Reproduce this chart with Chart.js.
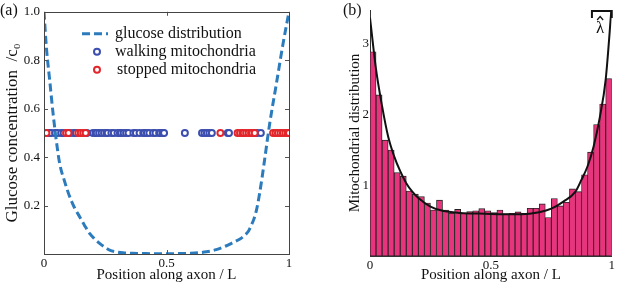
<!DOCTYPE html>
<html>
<head>
<meta charset="utf-8">
<script src="https://cdn.jsdelivr.net/npm/chart.js@4.4.1/dist/chart.umd.min.js"></script>
<style>
  html, body { margin: 0; padding: 0; background: #fff; }
  #wrap { position: relative; width: 617px; height: 284px; }
  #pa { position: absolute; left: 0; top: 0; width: 310px; height: 284px; }
  #pb { position: absolute; left: 310px; top: 0; width: 307px; height: 284px; }
</style>
</head>
<body>
<div id="wrap">
  <div id="pa"><canvas id="ca"></canvas></div>
  <div id="pb"><canvas id="cb"></canvas></div>
</div>
<script>
// ---------- Panel (a) data ----------
const GLUCOSE_X = [0, 0.01, 0.023, 0.036, 0.05, 0.064, 0.084, 0.105, 0.125, 0.146, 0.166, 0.186, 0.207, 0.227, 0.25, 0.268, 0.295, 0.322, 0.36, 0.4, 0.45, 0.5, 0.55, 0.6, 0.663, 0.703, 0.74, 0.771, 0.8, 0.819, 0.835, 0.846, 0.857, 0.867, 0.88, 0.89, 0.9, 0.921, 0.948, 0.976, 1.0];
const GLUCOSE_Y = [1.0, 0.85, 0.72, 0.59, 0.47, 0.373, 0.30, 0.236, 0.19, 0.153, 0.117, 0.085, 0.062, 0.044, 0.027, 0.016, 0.009, 0.005, 0.003, 0.002, 0.001, 0.001, 0.002, 0.003, 0.009, 0.018, 0.032, 0.047, 0.062, 0.077, 0.095, 0.118, 0.145, 0.18, 0.25, 0.315, 0.386, 0.537, 0.70, 0.87, 1.0];
const WALKING_X = [0.02, 0.03, 0.045, 0.055, 0.07, 0.08, 0.105, 0.12, 0.13, 0.175, 0.2, 0.21, 0.215, 0.225, 0.235, 0.245, 0.255, 0.26, 0.275, 0.285, 0.3, 0.31, 0.315, 0.325, 0.335, 0.345, 0.365, 0.375, 0.39, 0.405, 0.41, 0.42, 0.43, 0.445, 0.455, 0.47, 0.475, 0.485, 0.49, 0.575, 0.645, 0.655, 0.665, 0.675, 0.685, 0.75, 0.755, 0.86, 0.87, 0.885];
const STOPPED_X = [0.0, 0.01, 0.09, 0.1, 0.14, 0.15, 0.16, 0.17, 0.72, 0.79, 0.8, 0.81, 0.815, 0.825, 0.835, 0.845, 0.85, 0.86, 0.935, 0.945, 0.955, 0.965, 0.975, 0.985, 0.995, 1.0];
const MITO_LEVEL = 0.5;
const A_Y_TICKS = [0.2, 0.4, 0.6, 0.8, 1.0];
const X_TICKS = [0, 0.5, 1];
const LEGEND_A = ["glucose distribution", "walking mitochondria", "stopped mitochondria"];

// ---------- Panel (b) data ----------
const BIN_COUNT = 40;
const HIST_Y = [2.89, 2.28, 1.64, 1.50, 1.18, 1.13, 0.92, 0.875, 0.84, 0.75,
                0.65, 0.79, 0.65, 0.605, 0.66, 0.605, 0.63, 0.64, 0.67, 0.64,
                0.615, 0.65, 0.596, 0.605, 0.624, 0.605, 0.676, 0.676, 0.738, 0.544,
                0.813, 0.709, 0.76, 0.95, 0.91, 1.15, 1.47, 1.86, 2.15, 2.51];
const FIT_X = [0, 0.025, 0.05, 0.075, 0.1, 0.125, 0.15, 0.175, 0.2, 0.25, 0.3, 0.375, 0.45, 0.55, 0.625, 0.7, 0.75, 0.8, 0.85, 0.875, 0.9, 0.925, 0.95, 0.975, 1.0];
const FIT_Y = [3.37, 2.64, 2.12, 1.69, 1.41, 1.20, 1.03, 0.91, 0.82, 0.70, 0.64, 0.61, 0.60, 0.59, 0.59, 0.62, 0.67, 0.77, 0.91, 1.08, 1.27, 1.55, 1.95, 2.50, 3.55];
const B_Y_TICKS = [1, 2, 3];

const FONT = "'Liberation Serif', 'DejaVu Serif', serif";
Chart.defaults.font.family = FONT;
Chart.defaults.color = '#111';

const BLUE_LINE = '#2b7bbd';
const BLUE_PT = '#3c4fae';
const RED_PT = '#e3262c';
const BAR_COLOR = 'rgb(232,52,124)';

function fmtX(v) { return v === 0 ? '0' : (v === 1 ? '1' : String(v)); }

const boxPlugin = {
  id: 'boxA',
  afterDatasetsDraw(chart) {
    const {ctx, chartArea: a, scales} = chart;
    ctx.save();
    ctx.strokeStyle = '#555';
    ctx.lineWidth = 1;
    const L = 4;
    ctx.beginPath();
    A_Y_TICKS.forEach(v => {
      const y = Math.round(scales.y.getPixelForValue(v)) + 0.5;
      ctx.moveTo(a.left, y); ctx.lineTo(a.left + L, y);
      ctx.moveTo(a.right, y); ctx.lineTo(a.right - L, y);
    });
    X_TICKS.forEach(v => {
      const x = Math.round(scales.x.getPixelForValue(v)) + 0.5;
      ctx.moveTo(x, a.bottom); ctx.lineTo(x, a.bottom - L);
      ctx.moveTo(x, a.top); ctx.lineTo(x, a.top + L);
    });
    ctx.stroke();
    ctx.strokeStyle = '#444';
    ctx.strokeRect(Math.round(a.left) + 0.5, Math.round(a.top) + 0.5, Math.round(a.right - a.left), Math.round(a.bottom - a.top));
    ctx.restore();
  },
  afterDraw(chart) {
    const {ctx, chartArea: a} = chart;
    ctx.save();
    ctx.font = '16px ' + FONT;
    ctx.textBaseline = 'middle';
    const rows = [a.top + 22, a.top + 40, a.top + 58];
    ctx.strokeStyle = BLUE_LINE;
    ctx.lineWidth = 3;
    ctx.setLineDash([8, 4]);
    ctx.beginPath();
    ctx.moveTo(a.left + 38, rows[0]); ctx.lineTo(a.left + 64, rows[0]);
    ctx.stroke();
    ctx.setLineDash([]);
    [[BLUE_PT, rows[1]], [RED_PT, rows[2]]].forEach(([c, y]) => {
      ctx.beginPath();
      ctx.arc(a.left + 53, y, 3, 0, Math.PI * 2);
      ctx.fillStyle = '#fff'; ctx.fill();
      ctx.lineWidth = 2; ctx.strokeStyle = c; ctx.stroke();
    });
    ctx.fillStyle = '#111';
    ctx.textAlign = 'left';
    ctx.fillText(LEGEND_A[0], a.left + 71, rows[0]);
    ctx.fillText(LEGEND_A[1], a.left + 71, rows[1]);
    ctx.fillText(LEGEND_A[2], a.left + 73, rows[2]);
    ctx.fillText('(a)', 0, 11);
    ctx.restore();
  }
};

const chartA = new Chart(document.getElementById('ca'), {
  type: 'line',
  data: {
    datasets: [
      {
        label: LEGEND_A[0],
        data: GLUCOSE_X.map((x, i) => ({x, y: GLUCOSE_Y[i]})),
        borderColor: BLUE_LINE,
        borderWidth: 3,
        borderDash: [8, 4],
        pointRadius: 0,
        cubicInterpolationMode: 'monotone',
        fill: false,
        order: 0
      },
      {
        label: LEGEND_A[1],
        data: WALKING_X.map(x => ({x, y: MITO_LEVEL})),
        showLine: false,
        pointRadius: 3,
        pointBorderWidth: 2,
        pointBorderColor: BLUE_PT,
        pointBackgroundColor: '#fff',
        order: 2
      },
      {
        label: LEGEND_A[2],
        data: STOPPED_X.map(x => ({x, y: MITO_LEVEL})),
        showLine: false,
        pointRadius: 3,
        pointBorderWidth: 2,
        pointBorderColor: RED_PT,
        pointBackgroundColor: '#fff',
        order: 1
      }
    ]
  },
  options: {
    responsive: true,
    maintainAspectRatio: false,
    animation: false,
    layout: { padding: { top: 11, right: 21, left: 0, bottom: 0 } },
    plugins: { legend: { display: false }, tooltip: { enabled: false } },
    scales: {
      x: {
        type: 'linear', min: 0, max: 1,
        afterBuildTicks: s => { s.ticks = X_TICKS.map(v => ({value: v})); },
        ticks: { callback: fmtX, font: { size: 13 }, padding: 2, maxRotation: 0, color: '#111' },
        grid: { display: false, drawTicks: false },
        border: { display: false },
        title: { display: true, text: 'Position along axon / L', font: { size: 15 }, padding: { top: 0, bottom: 0 }, color: '#111' },
        afterFit: s => { s.height = 30; }
      },
      y: {
        type: 'linear', min: 0, max: 1,
        afterBuildTicks: s => { s.ticks = A_Y_TICKS.map(v => ({value: v})); },
        ticks: { callback: v => v.toFixed(1), font: { size: 13 }, padding: 4, color: '#111' },
        grid: { display: false, drawTicks: false },
        border: { display: false },
        title: { display: true, text: 'Glucose concentration  /c\u2080', font: { size: 17 }, padding: { top: 2, bottom: 0 }, color: '#111' },
        afterFit: s => { s.width = 44; }
      }
    }
  },
  plugins: [boxPlugin]
});

// ---------- Panel (b) ----------
const binWidth = 1 / BIN_COUNT;
const BIN_CENTERS = HIST_Y.map((_, i) => (i + 0.5) * binWidth);

const lambdaPlugin = {
  id: 'lambdaB',
  afterDraw(chart) {
    const {ctx, chartArea: a, scales} = chart;
    ctx.save();
    const x0 = scales.x.getPixelForValue(0.918);
    const x1 = scales.x.getPixelForValue(1.0);
    ctx.strokeStyle = '#111';
    ctx.lineWidth = 2;
    ctx.beginPath();
    ctx.moveTo(x0, a.top + 8); ctx.lineTo(x0, a.top + 1); ctx.lineTo(x1, a.top + 1); ctx.lineTo(x1, a.top + 8);
    ctx.stroke();
    const xm = scales.x.getPixelForValue(0.952);
    ctx.fillStyle = '#111';
    ctx.textAlign = 'center';
    ctx.textBaseline = 'middle';
    ctx.font = '17px ' + FONT;
    ctx.fillText('\u03bb', xm, a.top + 19);
    // hat accent over lambda
    ctx.lineWidth = 1.2;
    ctx.beginPath();
    ctx.moveTo(xm - 3, a.top + 10); ctx.lineTo(xm, a.top + 6.5); ctx.lineTo(xm + 3, a.top + 10);
    ctx.stroke();
    ctx.font = '16px ' + FONT;
    ctx.textAlign = 'left';
    ctx.fillText('(b)', 33, 11);
    ctx.restore();
  }
};

const chartB = new Chart(document.getElementById('cb'), {
  type: 'bar',
  data: {
    datasets: [
      {
        type: 'line',
        data: FIT_X.map((x, i) => ({x, y: FIT_Y[i]})),
        borderColor: '#111',
        borderWidth: 2,
        pointRadius: 0,
        cubicInterpolationMode: 'monotone',
        fill: false,
        order: 0
      },
      {
        type: 'bar',
        data: BIN_CENTERS.map((x, i) => ({x, y: HIST_Y[i]})),
        backgroundColor: BAR_COLOR,
        borderColor: '#222',
        borderWidth: 0.9,
        borderSkipped: false,
        barPercentage: 1,
        categoryPercentage: 1,
        order: 1
      }
    ]
  },
  options: {
    responsive: true,
    maintainAspectRatio: false,
    animation: false,
    layout: { padding: { top: 10, right: 2, left: 0, bottom: 0 } },
    plugins: { legend: { display: false }, tooltip: { enabled: false } },
    scales: {
      x: {
        type: 'linear', min: 0, max: 1, offset: false,
        afterBuildTicks: s => { s.ticks = X_TICKS.map(v => ({value: v})); },
        ticks: { callback: fmtX, font: { size: 13 }, padding: 2, maxRotation: 0, color: '#111' },
        grid: { display: false, drawTicks: false, offset: false },
        border: { display: true, color: '#333', width: 1 },
        title: { display: true, text: 'Position along axon / L', font: { size: 15 }, padding: { top: 0, bottom: 0 }, color: '#111' },
        afterFit: s => { s.height = 28; }
      },
      y: {
        type: 'linear', min: 0, max: 3.48,
        afterBuildTicks: s => { s.ticks = B_Y_TICKS.map(v => ({value: v})); },
        ticks: { callback: v => String(v), font: { size: 13 }, padding: 1, color: '#111' },
        grid: { display: false, drawTicks: false },
        border: { display: true, color: '#333', width: 1 },
        title: { display: true, text: 'Mitochondrial distribution', font: { size: 15 }, padding: { top: 36, bottom: 0 }, color: '#111' },
        afterFit: s => { s.width = 60; }
      }
    }
  },
  plugins: [lambdaPlugin]
});
</script>
</body>
</html>
